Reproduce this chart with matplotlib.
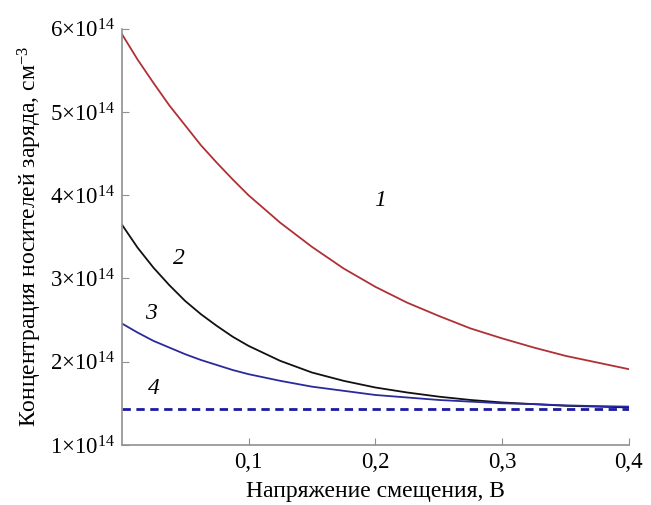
import numpy as np
import matplotlib
matplotlib.use("Agg")
import matplotlib.pyplot as plt

plt.rcParams["font.family"] = ["Liberation Serif", "DejaVu Serif"]
plt.rcParams["mathtext.fontset"] = "custom"
plt.rcParams["mathtext.rm"] = "Liberation Serif"
plt.rcParams["mathtext.it"] = "Liberation Serif:italic"

voltage = [0.0, 0.0125, 0.025, 0.0375, 0.05, 0.0625, 0.075, 0.0875, 0.1,
           0.125, 0.15, 0.175, 0.2, 0.225, 0.25, 0.275, 0.3,
           0.325, 0.35, 0.375, 0.4]
curve1 = [5.94, 5.63, 5.35, 5.08, 4.84, 4.60, 4.39, 4.19, 4.00,
          3.67, 3.38, 3.12, 2.90, 2.71, 2.55, 2.40, 2.28,
          2.17, 2.07, 1.99, 1.91]
curve2 = [3.65, 3.37, 3.13, 2.92, 2.73, 2.57, 2.43, 2.30, 2.19,
          2.01, 1.87, 1.77, 1.69, 1.63, 1.58, 1.54, 1.51,
          1.49, 1.47, 1.46, 1.45]
curve3 = [2.46, 2.35, 2.25, 2.17, 2.09, 2.02, 1.96, 1.90, 1.85,
          1.77, 1.70, 1.65, 1.60, 1.57, 1.54, 1.52, 1.50,
          1.49, 1.475, 1.466, 1.46]
curve4 = [1.43] * len(voltage)

yticks = [1, 2, 3, 4, 5, 6]
xticks = [0.1, 0.2, 0.3, 0.4]
xticklabels = ["0,1", "0,2", "0,3", "0,4"]

scale = 1e14
v = np.array(voltage)

fig = plt.figure(figsize=(6.51, 5.05), dpi=100)
ax = fig.add_axes([0.187, 0.119, 0.779, 0.824])

ax.plot(v, np.array(curve1) * scale, color="#b03035", lw=1.3)
ax.plot(v, np.array(curve2) * scale, color="#111111", lw=1.3)
ax.plot(v, np.array(curve3) * scale, color="#2a2a9c", lw=1.3)
ax.plot(v, np.array(curve4) * scale, color="#1c1ca0", lw=2.0, ls=(0, (3, 2)))

ax.set_xlim(0, 0.4)
ax.set_ylim(1 * scale, 6 * scale)
ax.set_xticks(xticks)
ax.set_xticklabels(xticklabels)
ax.set_yticks([t * scale for t in yticks])
ax.set_yticklabels([r"$%d{\times}10^{14}$" % t for t in yticks])

for s in ["top", "right"]:
    ax.spines[s].set_visible(False)
for s in ["left", "bottom"]:
    ax.spines[s].set_color("#909090")
    ax.spines[s].set_linewidth(1.2)
ax.tick_params(direction="in", length=5, color="#909090", labelsize=16.5, pad=5)

ax.set_xlabel("Напряжение смещения, В", fontsize=17, labelpad=6)
ax.set_ylabel(r"Концентрация носителей заряда, см$^{-3}$", fontsize=17, labelpad=4)

labels = [("1", 0.204, 3.94), ("2", 0.045, 3.245), ("3", 0.023, 2.58), ("4", 0.025, 1.68)]
for txt, x, y in labels:
    ax.text(x, y * scale, txt, fontsize=17, style="italic", ha="center", va="center")

fig.savefig("out.png", dpi=100)
